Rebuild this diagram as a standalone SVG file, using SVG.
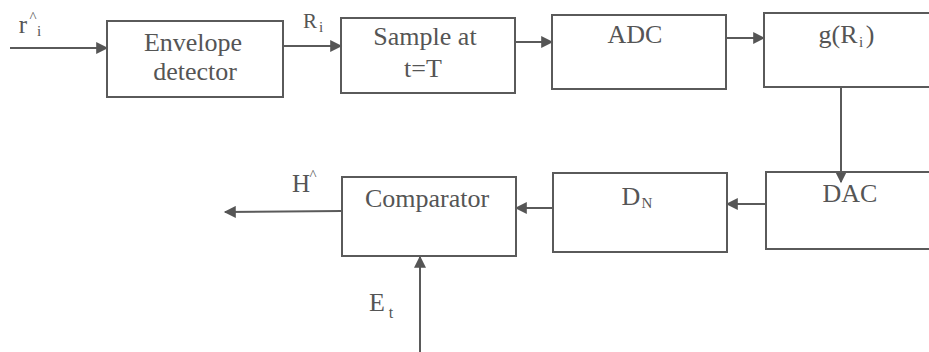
<svg xmlns="http://www.w3.org/2000/svg" width="929" height="352" viewBox="0 0 929 352">
<style>
.box{fill:none;stroke:#5a5a5a;stroke-width:2}
.ln{fill:none;stroke:#5a5a5a;stroke-width:2}
text{font-family:"Liberation Serif","Times New Roman",serif;fill:#555;text-anchor:middle}
.t{font-size:26px}
.s{font-size:15px}
</style>
<defs>
<marker id="ahb" viewBox="0 0 10 10" refX="9" refY="5" markerWidth="14" markerHeight="12" orient="auto" markerUnits="userSpaceOnUse">
<path d="M0,0 L10,5 L0,10 Z" fill="#555"/>
</marker>
</defs>
<rect width="929" height="352" fill="#fff"/>
<g id="connectors">
<line class="ln" x1="10" y1="48" x2="107" y2="48" marker-end="url(#ahb)"/>
<line class="ln" x1="283" y1="46" x2="341" y2="46" marker-end="url(#ahb)"/>
<line class="ln" x1="515" y1="42" x2="552" y2="42" marker-end="url(#ahb)"/>
<line class="ln" x1="726" y1="38" x2="764" y2="38" marker-end="url(#ahb)"/>
<line class="ln" x1="841" y1="87" x2="841" y2="182" marker-end="url(#ahb)"/>
<line class="ln" x1="766" y1="204" x2="727" y2="204" marker-end="url(#ahb)"/>
<line class="ln" x1="553" y1="208" x2="516" y2="208" marker-end="url(#ahb)"/>
<line class="ln" x1="342" y1="211" x2="225" y2="212" marker-end="url(#ahb)"/>
<line class="ln" x1="420" y1="352" x2="420" y2="257" marker-end="url(#ahb)"/>
</g>
<g id="labels">
<text x="23" y="33" style="font-size:25px">r</text>
<text x="33" y="22" style="font-size:15px">^</text>
<text x="39" y="36" style="font-size:15px">i</text>
<text x="310" y="28" style="font-size:21px">R</text>
<text x="321" y="32" style="font-size:15px">i</text>
<text x="301" y="192" style="font-size:25px">H</text>
<text x="313" y="180" style="font-size:15px">^</text>
<text x="377" y="311" style="font-size:26px">E</text>
<text x="391" y="318" style="font-size:16px">t</text>
</g>
<g id="envelope">
<rect class="box" x="107" y="21" width="176" height="76"/>
<text class="t" x="193" y="51">Envelope</text>
<text class="t" x="195" y="80">detector</text>
</g>
<g id="sample">
<rect class="box" x="341" y="18" width="174" height="75"/>
<text class="t" x="425" y="45">Sample at</text>
<text class="t" x="423" y="77">t=T</text>
</g>
<g id="adc">
<rect class="box" x="552" y="15" width="174" height="74"/>
<text class="t" x="635" y="43">ADC</text>
</g>
<g id="g">
<rect class="box" x="764" y="13" width="180" height="74"/>
<text class="t" x="838" y="43">g(R</text>
<text class="s" x="861" y="47">i</text>
<text class="t" x="870" y="43">)</text>
</g>
<g id="dac">
<rect class="box" x="766" y="172" width="180" height="77"/>
<text class="t" x="850" y="202">DAC</text>
</g>
<g id="dn">
<rect class="box" x="553" y="173" width="174" height="79"/>
<text class="t" x="631" y="205">D</text>
<text class="s" x="647" y="208">N</text>
</g>
<g id="comparator">
<rect class="box" x="342" y="177" width="174" height="79"/>
<text class="t" x="427" y="207">Comparator</text>
</g>
</svg>
